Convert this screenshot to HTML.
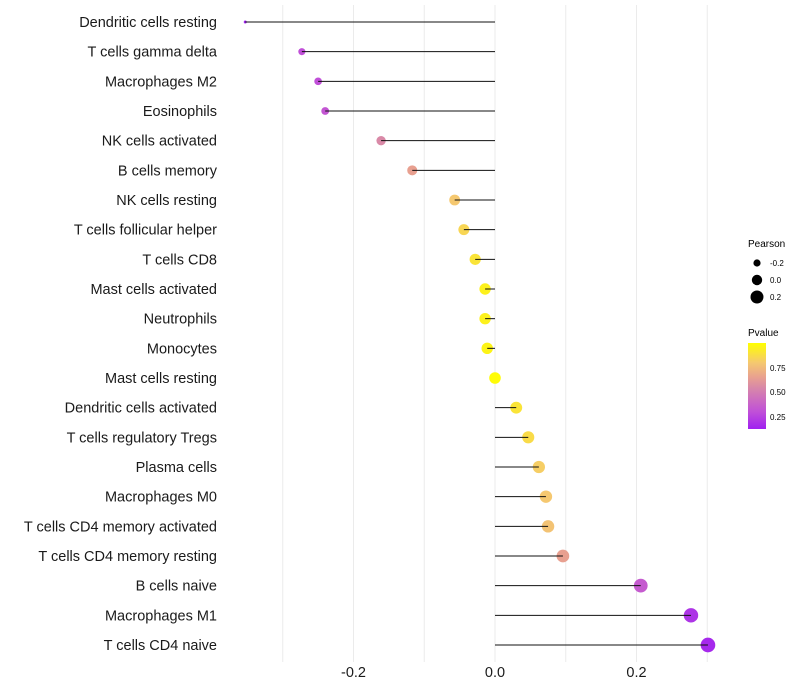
<!DOCTYPE html>
<html><head><meta charset="utf-8"><style>
body{margin:0;background:#fff;}
svg{display:block;font-family:"Liberation Sans",sans-serif;}
</style></head><body>
<svg id="chart" width="800" height="700">
<defs><linearGradient id="pg" x1="0" y1="1" x2="0" y2="0">
<stop offset="0" stop-color="#a020f0"/><stop offset="0.2" stop-color="#c050d8"/><stop offset="0.48" stop-color="#d888a8"/><stop offset="0.6" stop-color="#e8a090"/><stop offset="0.77" stop-color="#f5c870"/><stop offset="1" stop-color="#ffff00"/></linearGradient></defs>
<g id="grid"></g><g id="points"></g><g id="marks"></g><g id="ylabels"></g><g id="xlabels"></g>
<g>
<text x="748" y="247" font-size="10" fill="#000">Pearson</text>
<circle cx="757" cy="263" r="3.6" fill="#000"/><text x="770" y="266" font-size="8">-0.2</text>
<circle cx="757" cy="280" r="5.2" fill="#000"/><text x="770" y="283" font-size="8">0.0</text>
<circle cx="757" cy="297" r="6.5" fill="#000"/><text x="770" y="300" font-size="8">0.2</text>
</g>
<g>
<text x="748" y="336" font-size="10" fill="#000">Pvalue</text>
<rect x="748" y="343" width="18" height="86" fill="url(#pg)"/>
<text x="770" y="371" font-size="8">0.75</text>
<text x="770" y="395" font-size="8">0.50</text>
<text x="770" y="420" font-size="8">0.25</text>
</g>
</svg>
<script>
const cells=["Dendritic cells resting","T cells gamma delta","Macrophages M2","Eosinophils","NK cells activated","B cells memory","NK cells resting","T cells follicular helper","T cells CD8","Mast cells activated","Neutrophils","Monocytes","Mast cells resting","Dendritic cells activated","T cells regulatory  Tregs ","Plasma cells","Macrophages M0","T cells CD4 memory activated","T cells CD4 memory resting","B cells naive","Macrophages M1","T cells CD4 naive"];
const pearson=[-0.353,-0.273,-0.25,-0.24,-0.161,-0.117,-0.057,-0.044,-0.028,-0.014,-0.014,-0.011,0.0,0.03,0.047,0.062,0.072,0.075,0.096,0.206,0.277,0.301];
const pvalue=[0.13,0.3,0.3,0.33,0.55,0.65,0.8,0.85,0.9,0.95,0.95,0.96,0.99,0.9,0.87,0.82,0.8,0.78,0.65,0.35,0.2,0.16];
const xticks=[-0.2,0.0,0.2];
const xgrid=[-0.3,-0.2,-0.1,0,0.1,0.2,0.3];
const ns="http://www.w3.org/2000/svg";
const x=v=>495+v*707.5;
const y=i=>22+i*(623/21);
const r=v=>1.5+7.2*Math.sqrt(Math.max(0,v+0.353));
function col(p){const t=Math.min(1,Math.max(0,(p-0.128)/(1-0.128)));
const st=[[0,[160,32,240]],[0.2,[192,80,216]],[0.48,[216,136,168]],[0.6,[232,160,144]],[0.77,[245,200,112]],[1,[255,255,0]]];
for(let k=1;k<st.length;k++){if(t<=st[k][0]){const a=st[k-1],b=st[k],f=(t-a[0])/(b[0]-a[0]);
return "rgb("+a[1].map((c,j)=>Math.round(c+(b[1][j]-c)*f)).join(",")+")";}}return "rgb(255,255,0)";}
function mk(tag,at,parent){const e=document.createElementNS(ns,tag);for(const k in at)e.setAttribute(k,at[k]);document.getElementById(parent).appendChild(e);return e;}
xgrid.forEach(v=>{const l=mk("line",{x1:x(v),x2:x(v),y1:5,y2:662,stroke:"#ebebeb","stroke-width":1},"grid");

});
cells.forEach((c,i)=>{
const ci=mk("circle",{cx:x(pearson[i]),cy:y(i),r:r(pearson[i]),fill:col(pvalue[i])},"points");


const ln=mk("line",{x1:x(0),x2:x(pearson[i]),y1:y(i),y2:y(i),stroke:"#111","stroke-width":1},"marks");


const t=mk("text",{x:217,y:y(i)+5,"text-anchor":"end","font-size":14.5,fill:"#1a1a1a"},"ylabels");
t.textContent=c;

});
xticks.forEach(v=>{const t=mk("text",{x:x(v),y:677,"text-anchor":"middle","font-size":14.5,fill:"#1a1a1a"},"xlabels");
t.textContent=v.toFixed(1);

});
</script>
</body></html>
